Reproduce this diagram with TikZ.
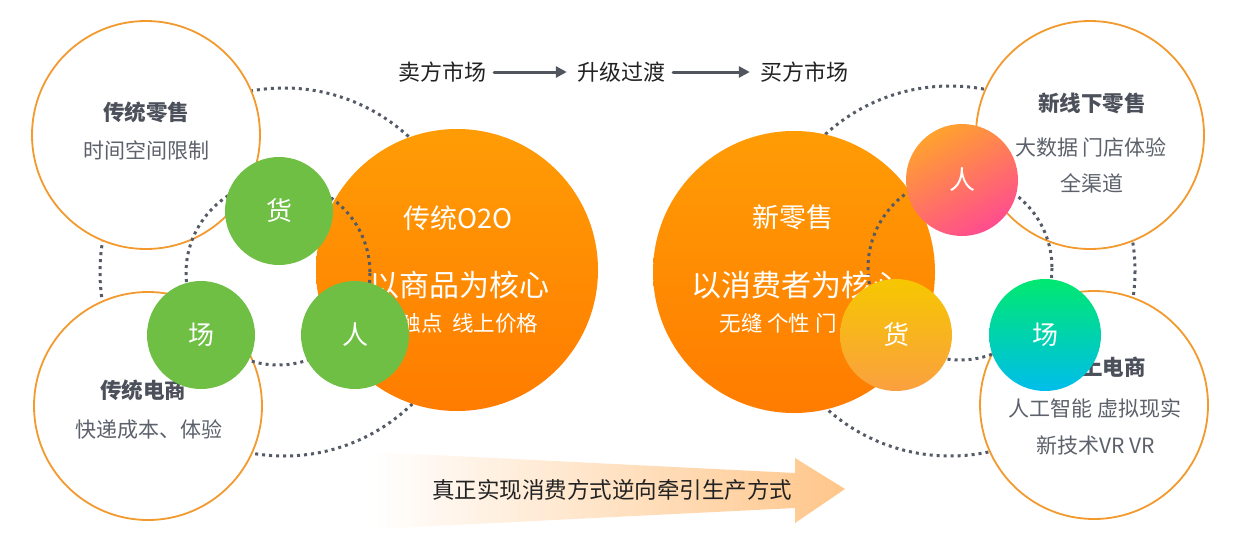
\documentclass[tikz,border=0pt]{standalone}
\usepackage{fontspec}
\setmainfont{Noto Sans CJK SC}
\usetikzlibrary{arrows.meta,positioning}
\definecolor{nrOrange}{HTML}{FF9C05}
\definecolor{nrOrangeDeep}{HTML}{FF7C00}
\definecolor{nrRing}{HTML}{F29A2E}
\definecolor{nrGreen}{HTML}{6EBF44}
\definecolor{nrDot}{HTML}{555B66}
\definecolor{nrInk}{HTML}{4B505A}
\definecolor{nrInkSoft}{HTML}{5C616B}
\definecolor{nrBlack}{HTML}{222222}
\definecolor{nrArrow}{HTML}{50555E}
\definecolor{nrPeach}{HTML}{FFC68A}
\definecolor{nrPeople}{HTML}{FFA22E}
\definecolor{nrPink}{HTML}{FF4C8F}
\definecolor{nrYellow}{HTML}{F6C700}
\definecolor{nrAmber}{HTML}{FAA040}
\definecolor{nrMint}{HTML}{00E870}
\definecolor{nrCyan}{HTML}{00BDEB}

\begin{document}
\begin{tikzpicture}[x=1pt,y=-1pt,>=Latex,line cap=round,line join=round]
\path[fill=white] (0,0) rectangle (1242,554);
\tikzset{dotline/.style={draw=nrDot,line width=3pt,line cap=butt,dash pattern=on 3pt off 4pt},ringbox/.style={circle,draw=nrRing,fill=white,line width=1.8pt,minimum size=228pt,inner sep=0pt},corebox/.style={circle,top color=nrOrange,bottom color=nrOrangeDeep,minimum size=282pt,inner sep=0pt},dotbox/.style={circle,text=white,minimum size=108pt,inner sep=0pt,font=\fontsize{26}{30}\selectfont},ringtitle/.style={text=nrInk,font=\bfseries\fontsize{21.5}{25}\selectfont},ringtext/.style={text=nrInkSoft,font=\fontsize{21}{25}\selectfont},coretitle/.style={text=white,font=\fontsize{27}{32}\selectfont},corehead/.style={text=white,font=\fontsize{30}{35}\selectfont},coretext/.style={text=white,font=\fontsize{21.5}{25}\selectfont},market/.style={text=nrBlack,font=\fontsize{22}{26}\selectfont,inner sep=3pt},flowarrow/.style={draw=nrArrow,line width=3pt,-{Triangle[length=11pt,width=11pt]},shorten <=5pt,shorten >=7pt}}
% outer rings
\draw[dotline] (284,272) circle[radius=184]; \draw[dotline] (950,271) circle[radius=185];
\node[ringbox] (tradretail) at (146,135) {}; \node[ringbox] (tradecom) at (148,406) {};
\node[ringbox] (newoffline) at (1090,135) {}; \node[ringbox] (newonline) at (1094,405) {};
\node[corebox] (o2o) at (457,270) {}; \node[corebox] (newretail) at (794,272) {};
% inner rings
\draw[dotline] (278,273) circle[radius=92]; \draw[dotline] (960,268) circle[radius=92];
\node[ringtitle] (tradretailT) at (146,112) {传统零售}; \node[ringtext] (tradretailS) at (146,150) {时间空间限制};
\node[ringtitle] (tradecomT) at (143,390) {传统电商}; \node[ringtext] (tradecomS) at (149,430) {快递成本、体验};
\node[ringtitle] (newofflineT) at (1092,103) {新线下零售}; \node[ringtext] (newofflineS) at (1091,147) {大数据 门店体验}; \node[ringtext] (newofflineU) at (1092,183) {全渠道};
\node[ringtitle] (newonlineT) at (1092,367) {新线上电商}; \node[ringtext] (newonlineS) at (1095,408) {人工智能 虚拟现实}; \node[ringtext] (newonlineU) at (1096,445) {新技术VR VR};
\node[coretitle] (o2oT) at (458,218) {传统O2O}; \node[corehead] (o2oH) at (459,285) {以商品为核心}; \node[coretext,anchor=east] (o2oS) at (542,323) {触点\ \ 线上价格};
\node[coretitle] (newretailT) at (793,217) {新零售}; \node[corehead] (newretailH) at (796,285) {以消费者为核心}; \node[coretext,anchor=west] (newretailS) at (716,323) {无缝 个性 门};
% goods, place, people
\node[dotbox,fill=nrGreen] (lgoods) at (279,211) {货};
\node[dotbox,fill=nrGreen] (lplace) at (201,335) {场};
\node[dotbox,fill=nrGreen] (lpeople) at (355,335) {人};
\node[dotbox,minimum size=112pt,top color=nrPeople,bottom color=nrPink,shading angle=30] (rpeople) at (962,180) {人};
\node[dotbox,minimum size=112pt,top color=nrYellow,bottom color=nrAmber] (rgoods) at (896,335) {货};
\node[dotbox,minimum size=112pt,top color=nrMint,bottom color=nrCyan] (rplace) at (1045,335) {场};
% market shift
\node[market] (sellmk) at (442,72) {卖方市场};
\node[market] (upgrade) at (621,72) {升级过渡};
\node[market] (buymk) at (804,72) {买方市场};
\draw[flowarrow] (sellmk) -- (upgrade); \draw[flowarrow] (upgrade) -- (buymk);
\shade[left color=white,right color=nrPeach] (373,452) -- (795,473) -- (795,458) -- (845,489) -- (795,523) -- (795,508) -- (373,529) -- cycle;
\node[text=nrBlack,font=\fontsize{22.5}{27}\selectfont] (reverse) at (612,490) {真正实现消费方式逆向牵引生产方式};
\end{tikzpicture}
\end{document}
